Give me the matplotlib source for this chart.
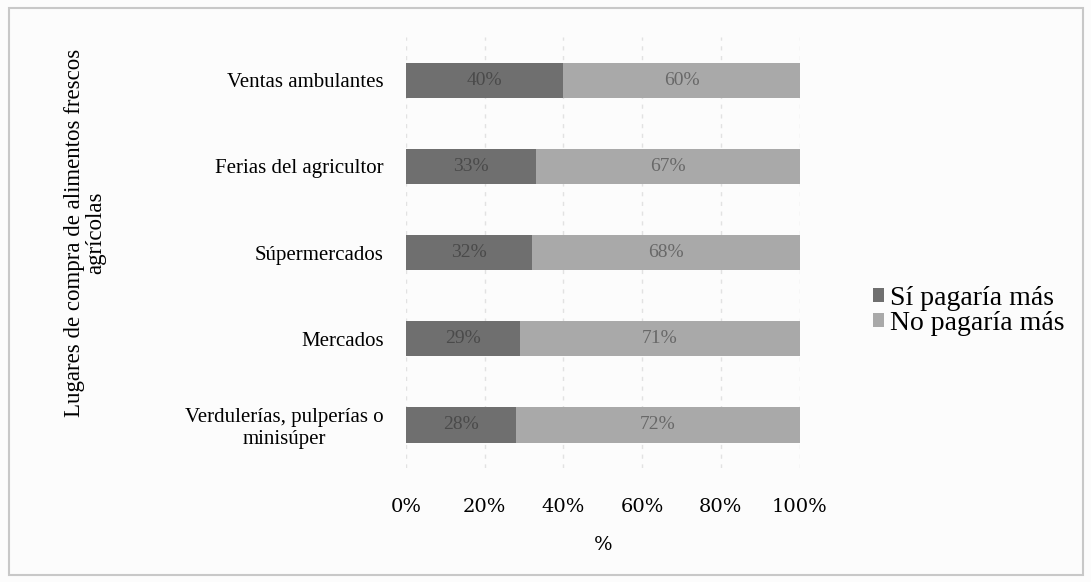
import matplotlib.pyplot as plt
from matplotlib.patches import Rectangle

lugares = ["Verdulerías, pulperías o\nminisúper", "Mercados", "Súpermercados",
           "Ferias del agricultor", "Ventas ambulantes"]
si_paga = [28, 29, 32, 33, 40]
no_paga = [72, 71, 68, 67, 60]
xticks = [0, 20, 40, 60, 80, 100]

plt.rcParams['font.family'] = ['Liberation Serif', 'DejaVu Serif']

fig = plt.figure(figsize=(10.91, 5.82), dpi=100)
fig.patch.set_facecolor('#fcfcfc')
fig.patches.append(Rectangle((0.008, 0.012), 0.985, 0.975, transform=fig.transFigure,
                             fill=False, edgecolor='#c8c8c8', linewidth=1.5))

ax = fig.add_axes([0.372, 0.196, 0.361, 0.740])
ax.set_facecolor('none')

pos = range(len(lugares))
b1 = ax.barh(pos, si_paga, height=0.41, color='#6f6f6f', label='Sí pagaría más')
b2 = ax.barh(pos, no_paga, left=si_paga, height=0.41, color='#a9a9a9', label='No pagaría más')

for i in pos:
    ax.text(si_paga[i] / 2, i, f"{si_paga[i]}%", ha='center', va='center',
            fontsize=14, color='#4a4a4a')
    ax.text(si_paga[i] + no_paga[i] / 2, i, f"{no_paga[i]}%", ha='center', va='center',
            fontsize=14, color='#686868')

ax.set_xlim(0, 100)
ax.set_ylim(-0.5, len(lugares) - 0.5)
ax.set_xticks(xticks)
ax.set_xticklabels([f"{t}%" for t in xticks], fontsize=14, family='DejaVu Serif')
ax.set_yticks(list(pos))
ax.set_yticklabels(lugares, fontsize=15, multialignment='center')
ax.tick_params(length=0, pad=16)
ax.tick_params(axis='x', pad=22)
for s in ax.spines.values():
    s.set_visible(False)
ax.grid(axis='x', color='#e2e2e2', linestyle=(0, (3, 4)), linewidth=1)
ax.set_axisbelow(True)

ax.set_xlabel('%', fontsize=14, family='DejaVu Serif', labelpad=14)
fig.text(0.078, 0.60, 'Lugares de compra de alimentos frescos\nagrícolas', rotation=90,
         ha='center', va='center', fontsize=16.5, multialignment='center',
         linespacing=1.0)

fig.legend(handles=[b1, b2], loc='center left', bbox_to_anchor=(0.777, 0.466),
           frameon=False, fontsize=20, handlelength=0.42, handleheight=0.42,
           handletextpad=0.22, labelspacing=-0.01)

fig.savefig('out.png', dpi=100, facecolor=fig.get_facecolor())
